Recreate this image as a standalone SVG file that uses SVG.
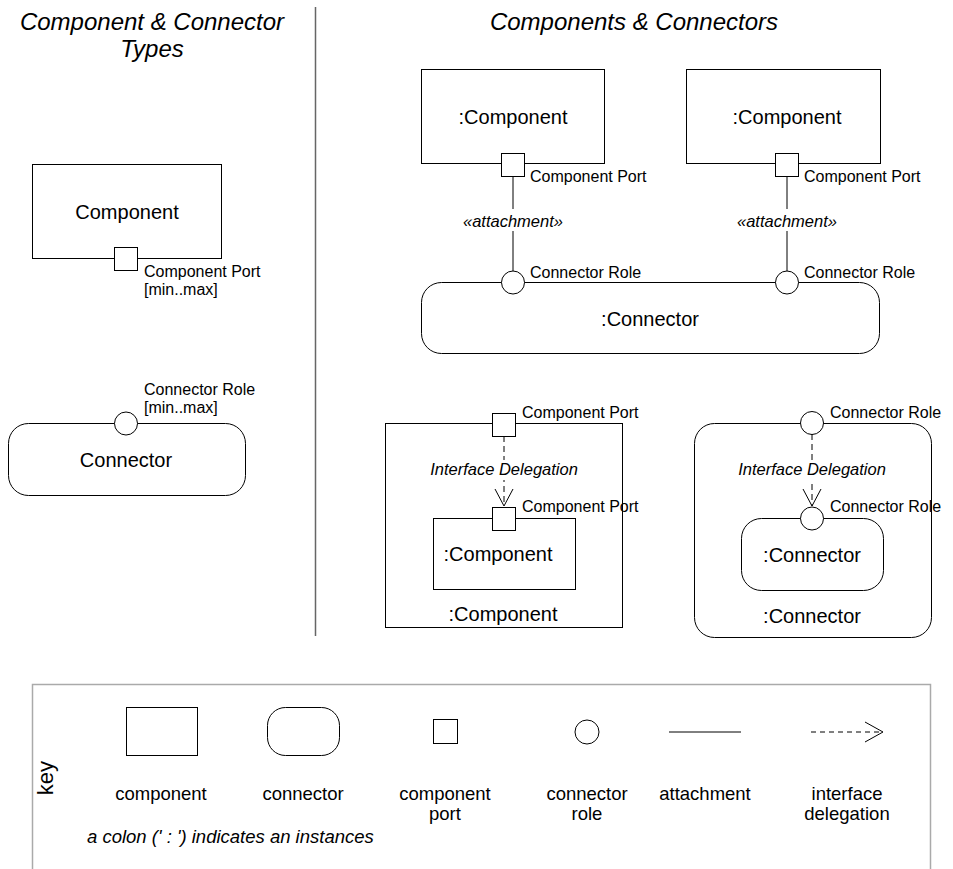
<svg xmlns="http://www.w3.org/2000/svg" width="953" height="869" viewBox="0 0 953 869">
  <style>
    text { font-family: "Liberation Sans", Arial, sans-serif; fill: #000; }
    .title { font-size: 24px; font-style: italic; text-anchor: middle; }
    .name { font-size: 20px; text-anchor: middle; }
    .lbl { font-size: 16px; }
    .ital { font-size: 16.5px; font-style: italic; text-anchor: middle; }
    .key { font-size: 18.5px; text-anchor: middle; }
    .shape { fill: #fff; stroke: #000; stroke-width: 1; }
    .att { stroke: #000; stroke-width: 1; fill: none; }
    .deleg { stroke: #000; stroke-width: 1; fill: none; stroke-dasharray: 6 4; }
  </style>
  <defs>
    <marker id="openArrow" viewBox="0 0 20 20" refX="18" refY="10" markerWidth="20" markerHeight="20" markerUnits="userSpaceOnUse" orient="auto">
      <path d="M1,1 L18,10 L1,19" fill="none" stroke="#000" stroke-width="1"/>
    </marker>
  </defs>
  <rect width="953" height="869" fill="#fff"/>

  <!-- section titles and divider -->
  <text class="title" x="152" y="30">Component &amp; Connector</text>
  <text class="title" x="152" y="57">Types</text>
  <text class="title" x="634" y="30">Components &amp; Connectors</text>
  <line x1="315.5" y1="7" x2="315.5" y2="636" stroke="#666" stroke-width="1.5"/>

  <!-- component type -->
  <g id="componentType">
    <rect class="shape" x="32.5" y="164.5" width="189" height="94"/>
    <text class="name" x="127" y="219">Component</text>
    <rect class="shape" x="114.5" y="247.5" width="23" height="23"/>
    <text class="lbl" x="144" y="277">Component Port</text>
    <text class="lbl" x="144" y="295">[min..max]</text>
  </g>

  <!-- connector type -->
  <g id="connectorType">
    <rect class="shape" x="8.5" y="423.5" width="237" height="72" rx="20"/>
    <text class="name" x="126" y="467">Connector</text>
    <circle class="shape" cx="126" cy="423.5" r="11.5"/>
    <text class="lbl" x="144" y="395">Connector Role</text>
    <text class="lbl" x="144" y="413">[min..max]</text>
  </g>

  <!-- instances: two components joined by a connector -->
  <g id="componentA">
    <rect class="shape" x="421.5" y="69.5" width="183" height="94"/>
    <text class="name" x="513" y="124">:Component</text>
    <rect class="shape" x="501.5" y="153.5" width="23" height="23"/>
    <text class="lbl" x="530" y="182">Component Port</text>
  </g>
  <g id="componentB">
    <rect class="shape" x="686.5" y="69.5" width="194" height="94"/>
    <text class="name" x="787" y="124">:Component</text>
    <rect class="shape" x="775.5" y="153.5" width="23" height="23"/>
    <text class="lbl" x="804" y="182">Component Port</text>
  </g>
  <g id="connectorInstance">
    <rect class="shape" x="421.5" y="282.5" width="458" height="71" rx="20"/>
    <text class="name" x="650" y="326">:Connector</text>
    <circle class="shape" cx="513" cy="282.5" r="11.5"/>
    <circle class="shape" cx="787" cy="282.5" r="11.5"/>
    <text class="lbl" x="530" y="278">Connector Role</text>
    <text class="lbl" x="804" y="278">Connector Role</text>
  </g>

  <!-- component delegation -->
  <g id="outerComponent">
    <rect class="shape" x="385.5" y="423.5" width="237" height="204"/>
    <text class="name" x="503" y="621">:Component</text>
    <rect class="shape" x="492.5" y="413.5" width="23" height="23"/>
    <text class="lbl" x="522" y="418">Component Port</text>
  </g>
  <g id="innerComponent">
    <rect class="shape" x="433.5" y="518.5" width="142" height="71"/>
    <text class="name" x="498" y="561">:Component</text>
    <rect class="shape" x="492.5" y="507.5" width="23" height="23"/>
    <text class="lbl" x="522" y="512">Component Port</text>
  </g>

  <!-- connector delegation -->
  <g id="outerConnector">
    <rect class="shape" x="694.5" y="423.5" width="237" height="214" rx="20"/>
    <text class="name" x="812" y="623">:Connector</text>
    <circle class="shape" cx="812" cy="423" r="11.5"/>
    <text class="lbl" x="830" y="418">Connector Role</text>
  </g>
  <g id="innerConnector">
    <rect class="shape" x="741.5" y="518.5" width="142" height="72" rx="20"/>
    <text class="name" x="812" y="562">:Connector</text>
    <circle class="shape" cx="812" cy="518.5" r="11.5"/>
    <text class="lbl" x="830" y="512">Connector Role</text>
  </g>

  <!-- connectors: attachments and interface delegations -->
  <g id="connectors">
    <line class="att" x1="513" y1="176" x2="513" y2="271"/>
    <line class="att" x1="787" y1="176" x2="787" y2="271"/>
    <rect x="470" y="209" width="86" height="22" fill="#fff"/>
    <rect x="744" y="209" width="86" height="22" fill="#fff"/>
    <text class="ital" x="513" y="227">«attachment»</text>
    <text class="ital" x="787" y="227">«attachment»</text>
    <line class="deleg" x1="504" y1="436" x2="504" y2="506" marker-end="url(#openArrow)"/>
    <line class="deleg" x1="812" y1="434" x2="812" y2="506" marker-end="url(#openArrow)"/>
    <rect x="430" y="460" width="148" height="20" fill="#fff"/>
    <rect x="738" y="460" width="148" height="20" fill="#fff"/>
    <text class="ital" x="504" y="475">Interface Delegation</text>
    <text class="ital" x="812" y="475">Interface Delegation</text>
  </g>

  <!-- key -->
  <g id="key">
    <rect x="32.5" y="684.5" width="898" height="200" fill="none" stroke="#aaa" stroke-width="1.5"/>
    <text x="53" y="778" font-size="22" text-anchor="middle" transform="rotate(-90 53 778)">key</text>
    <rect class="shape" x="126.5" y="707.5" width="71" height="48"/>
    <rect class="shape" x="267.5" y="707.5" width="72" height="48" rx="18"/>
    <rect class="shape" x="433.5" y="719.5" width="24" height="24"/>
    <circle class="shape" cx="587" cy="732" r="12"/>
    <line class="att" x1="669" y1="732" x2="741" y2="732"/>
    <line x1="811" y1="732" x2="882" y2="732" stroke="#000" stroke-width="1" stroke-dasharray="5 4"/>
    <path d="M865,722 L883,732 L865,742" fill="none" stroke="#000" stroke-width="1"/>
    <text class="key" x="161" y="800">component</text>
    <text class="key" x="303" y="800">connector</text>
    <text class="key" x="445" y="800">component</text>
    <text class="key" x="445" y="820">port</text>
    <text class="key" x="587" y="800">connector</text>
    <text class="key" x="587" y="820">role</text>
    <text class="key" x="705" y="800">attachment</text>
    <text class="key" x="847" y="800">interface</text>
    <text class="key" x="847" y="820">delegation</text>
    <text x="87" y="843" font-size="18.5" font-style="italic">a colon (' : ') indicates an instances</text>
  </g>
</svg>
